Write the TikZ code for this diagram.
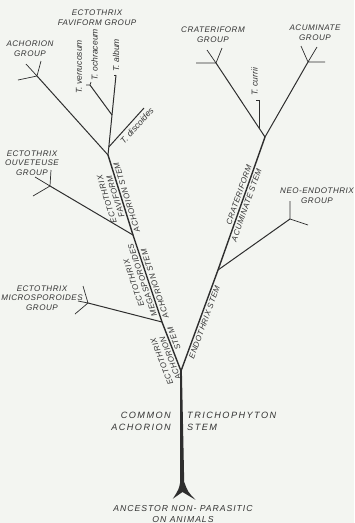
\documentclass[tikz,border=0pt]{standalone}
\usepackage{fontspec}
\usetikzlibrary{calc}
\newfontfamily\lblfont[LetterSpace=6]{Liberation Sans}
\newfontfamily\spfont{Liberation Sans}
\newfontfamily\widefont[LetterSpace=16]{Liberation Sans}
\newfontfamily\ancfont[LetterSpace=11]{Liberation Sans}
\definecolor{paper}{HTML}{F3F5F1}
\definecolor{ink}{HTML}{2E2E2E}
\definecolor{inktext}{HTML}{333333}

\tikzset{
  stem/.style={draw=ink,line width=1.2pt},
  branch/.style={draw=ink,line width=0.85pt},
  prong/.style={draw=ink,line width=0.6pt},
  grouplbl/.style={font=\lblfont\itshape\fontsize{6.9}{8.2}\selectfont,text=inktext,align=center,inner sep=0pt},
  stemlbl/.style={font=\lblfont\itshape\fontsize{6.8}{7.8}\selectfont,text=inktext,align=center,
    sloped,allow upside down,inner sep=1.5pt},
  species/.style={font=\spfont\itshape\fontsize{7.3}{8}\selectfont,text=inktext,inner sep=1pt},
  baselbl/.style={font=\widefont\itshape\fontsize{7.8}{10.5}\selectfont,text=inktext,inner sep=0pt}
}

\begin{document}
\begin{tikzpicture}[x=0.03cm,y=-0.03cm]
  \fill[paper] (0,0) rectangle (354,523);
  \useasboundingbox (0,0) rectangle (354,523);

  % junctions and ends
  \coordinate (fork)  at (181,371);
  \coordinate (ea)    at (162,322);
  \coordinate (micro) at (88,303);
  \coordinate (em)    at (133,235);
  \coordinate (ouv)   at (50,186);
  \coordinate (ef)    at (108,155);
  \coordinate (achg)  at (37,76);
  \coordinate (fav)   at (112,115);
  \coordinate (album) at (116,75);
  \coordinate (ochr)  at (90,85);
  \coordinate (discend) at (144,108);
  \coordinate (en)    at (218,270);
  \coordinate (neo)   at (290,219);
  \coordinate (ca)    at (265,137);
  \coordinate (crat)  at (216,63);
  \coordinate (acum)  at (308,62);

  % common trunk
  \fill[ink] (180.1,371) -- (180.2,482) .. controls (179,489) .. (172.8,498.8)
    -- (182.5,492) -- (195.5,499.8) .. controls (188,492) .. (184.2,482) -- (181.9,371) -- cycle;

  % achorion side
  \path[stem] (fork) -- (ea)
      node[stemlbl,above,pos=0.3] {ECTOTHRIX\\ACHORION}
      node[stemlbl,below,pos=0.62] {STEM};
  \path[stem] (ea) -- (em)
      node[stemlbl,above,pos=0.5] {ECTOTHRIX\\MEGASPOROIDES}
      node[stemlbl,below,pos=0.42] {ACHORION STEM};
  \path[stem] (em) -- (ef)
      node[stemlbl,above,pos=0.5] {ECTOTHRIX\\FAVIFORM}
      node[stemlbl,below,pos=0.45] {ACHORION STEM};
  \path[branch] (ea) -- (micro);
  \path[branch] (em) -- (ouv);
  \path[branch] (ef) -- (achg);
  \path[branch] (ef) -- (fav) coordinate[pos=0.2] (disc);
  \path[branch] (fav) -- (album);
  \path[branch] (fav) -- (ochr);
  \path[branch] (disc) -- (discend)
      node[species,sloped,below=1.5pt,pos=0.66] {T. discoides};

  % trichophyton side
  \path[stem] (fork) -- (en)
      node[stemlbl,below,pos=0.5] {ENDOTHRIX STEM};
  \path[stem] (en) -- (ca)
      node[stemlbl,above,pos=0.55] {CRATERIFORM}
      node[stemlbl,below,pos=0.5] {ACUMINATE STEM};
  \path[branch] (en) -- (neo);
  \path[branch] (ca) -- (crat) coordinate[pos=0.12] (cur0);
  \path[branch] (ca) -- (acum);
  \coordinate (cur) at (cur0 |- 0,100);
  \path[prong] (cur0) -- (cur) -- ++(-3,0);

  % group ends
  \path[prong] (achg) -- ++(4,-15) (achg) -- ++(-11,-12) (achg) -- ++(-19,4);
  \path[prong] (ouv) -- ++(1,-16) (ouv) -- ++(-15,-9) (ouv) -- ++(-17,10);
  \path[prong] (micro) -- ++(-5,-17) (micro) -- ++(-10,-2) (micro) -- ++(-13,11);
  \path[prong] (crat) -- ++(6,-15) (crat) -- ++(-9,-13) (crat) -- ++(-20,0);
  \path[prong] (acum) -- ++(-7,-16) (acum) -- ++(9,-15) (acum) -- ++(17,0);
  \path[prong] (neo) -- ++(0,-18) (neo) -- ++(18,6);
  \path[prong] (ochr) -- ++(-4,0) (ochr) -- ++(1,-3);
  \path[prong] (album) -- ++(-2,0);

  % group labels
  \node[grouplbl] (favgrp)   at (97,18)   {ECTOTHRIX\\FAVIFORM GROUP};
  \node[grouplbl] (achgrp)   at (30,49)   {ACHORION\\GROUP};
  \node[grouplbl] (ouvgrp)   at (32,163)  {ECTOTHRIX\\OUVETEUSE\\GROUP};
  \node[grouplbl] (micgrp)   at (42,298)  {ECTOTHRIX\\MICROSPOROIDES\\GROUP};
  \node[grouplbl] (cratgrp)  at (213,35)  {CRATERIFORM\\GROUP};
  \node[grouplbl] (acumgrp)  at (315,33)  {ACUMINATE\\GROUP};
  \node[grouplbl] (neogrp)   at (317,196) {NEO-ENDOTHRIX\\GROUP};

  % species
  \node[species,rotate=90] (tverr) at (79,67) {T. verrucosum};
  \node[species,rotate=90,anchor=north west] (tochr) at ($(ochr)+(0,-3)$) {T. ochraceum};
  \node[species,rotate=90,anchor=west] (talb) at ($(album)+(0,-2)$) {T. album};
  \node[species,rotate=90,anchor=south west] (tcur) at ($(cur)+(0,-3)$) {T. currii};

  % base
  \node[baselbl,align=right,anchor=east] (common) at (171,421) {COMMON\\ACHORION};
  \node[baselbl,align=left,anchor=west] (trich) at (187,421) {TRICHOPHYTON\\STEM};
  \node[baselbl,align=center,font=\ancfont\itshape\fontsize{7.4}{8.6}\selectfont] (ancestor) at (183,514) {ANCESTOR NON- PARASITIC\\ON ANIMALS};
\end{tikzpicture}
\end{document}
